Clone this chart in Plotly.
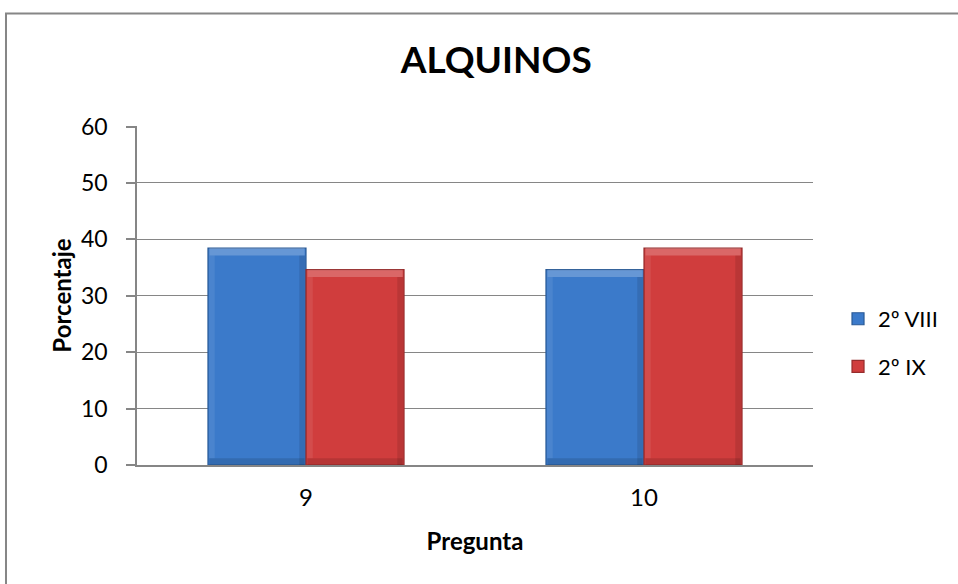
import plotly.graph_objects as go

# Porcentaje de respuestas correctas por pregunta
preguntas = ["9", "10"]
serie_viii = [38.46, 34.62]
serie_ix = [34.62, 38.46]
nombres = ["2º VIII", "2º IX"]

FONT = "Lato, 'Open Sans', sans-serif"
GRID = "#868686"
BARGAP = 0.42

fig = go.Figure()
fig.add_trace(go.Bar(
    x=preguntas, y=serie_viii, name=nombres[0], legendgroup="a",
    marker=dict(color="#3B7ACA", line=dict(color="#2A5A96", width=1.2)),
))
fig.add_trace(go.Bar(
    x=preguntas, y=serie_ix, name=nombres[1], legendgroup="b",
    marker=dict(color="#D03D3D", line=dict(color="#962C2C", width=1.2)),
))

# Bisel: franja clara arriba y sombreado en la base de cada barra
shapes = []
ancho = (1 - BARGAP) / 2
for serie, desplaz in ((serie_viii, -ancho), (serie_ix, 0.0)):
    for i, v in enumerate(serie):
        x0 = i + desplaz
        x1 = x0 + ancho
        shapes.append(dict(type="rect", xref="x", yref="y",
                           x0=x0 + 0.004, x1=x1 - 0.004, y0=v - 1.3, y1=v,
                           fillcolor="rgba(255,255,255,0.22)", line=dict(width=0)))
        shapes.append(dict(type="rect", xref="x", yref="y",
                           x0=x0 + 0.004, x1=x1 - 0.004, y0=0, y1=1.2,
                           fillcolor="rgba(0,0,0,0.12)", line=dict(width=0)))
        shapes.append(dict(type="rect", xref="x", yref="y",
                           x0=x1 - 0.02, x1=x1 - 0.003, y0=0, y1=v - 1.3,
                           fillcolor="rgba(0,0,0,0.10)", line=dict(width=0)))
        shapes.append(dict(type="rect", xref="x", yref="y",
                           x0=x0 + 0.003, x1=x0 + 0.02, y0=1.2, y1=v - 1.3,
                           fillcolor="rgba(255,255,255,0.08)", line=dict(width=0)))

# Marco exterior del gráfico
shapes.append(dict(type="rect", xref="paper", yref="paper",
                   x0=-0.1938, y0=-0.36, x1=1.22, y1=1.332,
                   line=dict(color=GRID, width=2), layer="below"))

fig.update_layout(
    width=958, height=584,
    margin=dict(l=137, r=145, t=126, b=119),
    paper_bgcolor="white", plot_bgcolor="white",
    barmode="group", bargap=BARGAP, bargroupgap=0,
    font=dict(family=FONT, size=23, color="#000000"),
    title=dict(text="<b>ALQUINOS</b>", x=0.518, xanchor="center",
               y=0.897, yanchor="middle", font=dict(size=37, family=FONT)),
    legend=dict(x=1.037, xanchor="left", y=0.36, yanchor="middle",
                tracegroupgap=16, font=dict(size=22), itemwidth=30,
                bgcolor="rgba(0,0,0,0)"),
    xaxis=dict(
        title=dict(text="<b>Pregunta</b>", font=dict(size=24), standoff=24),
        showline=True, linecolor=GRID, linewidth=1.5,
        ticks="", showgrid=False, tickfont=dict(size=24),
        ticklabelstandoff=10,
        range=[-0.5, 1.5],
    ),
    yaxis=dict(
        title=dict(text="<b>Porcentaje</b>", font=dict(size=24), standoff=3),
        range=[0, 60.1], tickvals=[0, 10, 20, 30, 40, 50, 60],
        showgrid=True, gridcolor=GRID, gridwidth=1.2,
        showline=True, linecolor=GRID, linewidth=1.5,
        ticks="outside", ticklen=9, tickcolor=GRID, tickwidth=1.5,
        ticklabelstandoff=14,
        tickfont=dict(size=23), zeroline=False,
    ),
    shapes=shapes,
)

fig.write_html("out.html")
